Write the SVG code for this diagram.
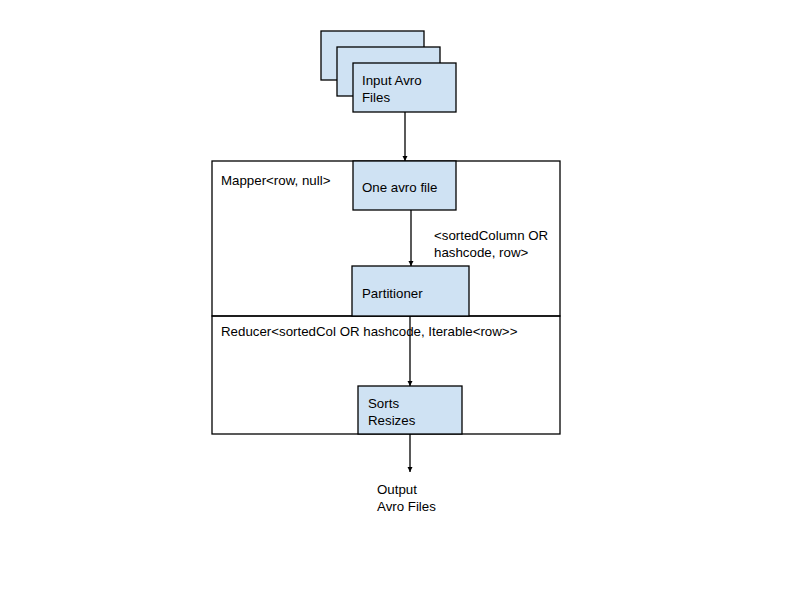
<svg xmlns="http://www.w3.org/2000/svg" width="800" height="600" viewBox="0 0 800 600">
<style>
.box{fill:#cfe2f3;stroke:#000;stroke-width:1.3}
.cont{fill:none;stroke:#000;stroke-width:1.3}
.t{font-family:"Liberation Sans",Arial,sans-serif;font-size:13.3px;fill:#000}
.edge{stroke:#000;stroke-width:1.3;fill:none;marker-end:url(#ah)}
</style>
<defs>
<marker id="ah" viewBox="0 0 8 8" refX="8" refY="4" markerWidth="4" markerHeight="4" orient="auto" markerUnits="strokeWidth">
<path d="M0,0 L8,4 L0,8 Z" fill="#000"/>
</marker>
</defs>
<rect width="800" height="600" fill="#fff"/>
<g id="mapper">
<rect class="cont" x="212" y="161" width="348" height="155"/>
<text class="t" x="221" y="185">Mapper&lt;row, null&gt;</text>
</g>
<g id="reducer">
<rect class="cont" x="212" y="316" width="348" height="118"/>
<text class="t" x="221" y="336">Reducer&lt;sortedCol OR hashcode, Iterable&lt;row&gt;&gt;</text>
</g>
<g id="input">
<rect class="box" x="321" y="31" width="103" height="49"/>
<rect class="box" x="337" y="47" width="103" height="49"/>
<rect class="box" x="353" y="63" width="103" height="49"/>
<text class="t" x="362" y="85">Input Avro</text>
<text class="t" x="362" y="102">Files</text>
</g>
<g id="oneavro">
<rect class="box" x="353" y="161" width="103" height="49"/>
<text class="t" x="362" y="192">One avro file</text>
</g>
<g id="partitioner">
<rect class="box" x="352" y="266" width="117" height="50"/>
<text class="t" x="362" y="298">Partitioner</text>
</g>
<g id="sorts">
<rect class="box" x="358" y="386" width="104" height="48"/>
<text class="t" x="368" y="408">Sorts</text>
<text class="t" x="368" y="425">Resizes</text>
</g>
<g id="output">
<text class="t" x="377" y="494">Output</text>
<text class="t" x="377" y="511">Avro Files</text>
</g>
<g id="connectors">
<line class="edge" x1="405" y1="112" x2="405" y2="161"/>
<line class="edge" x1="411" y1="210" x2="411" y2="266"/>
<text class="t" x="434" y="240">&lt;sortedColumn OR</text>
<text class="t" x="434" y="257">hashcode, row&gt;</text>
<line class="edge" x1="410" y1="316" x2="410" y2="386"/>
<line class="edge" x1="410" y1="434" x2="410" y2="472"/>
</g>
</svg>
